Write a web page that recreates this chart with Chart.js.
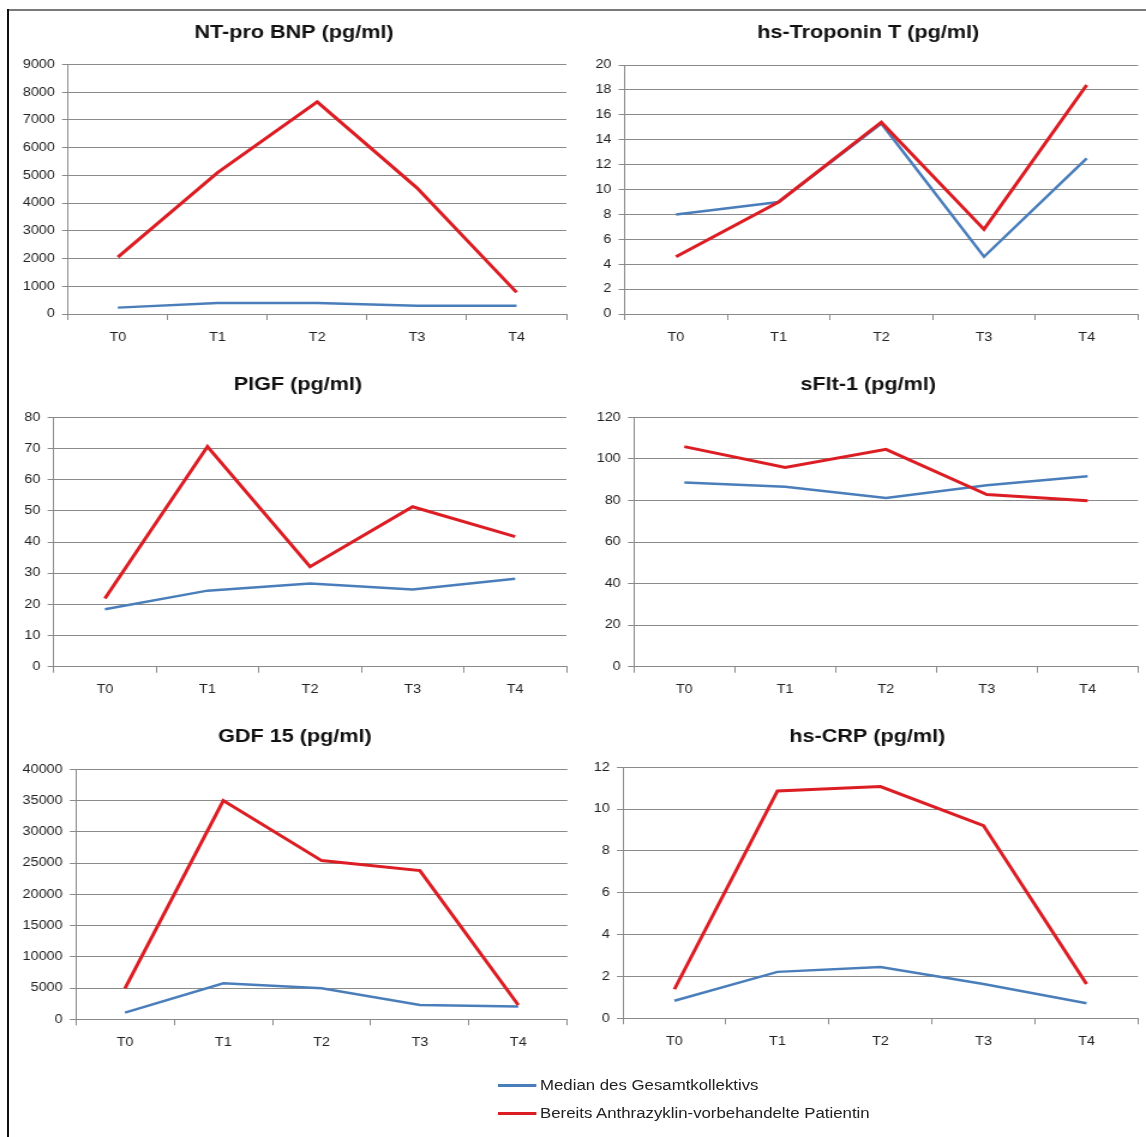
<!DOCTYPE html>
<html lang="de">
<head>
<meta charset="utf-8">
<title>Biomarker T0-T4</title>
<script src="https://cdn.jsdelivr.net/npm/chart.js@4.4.1/dist/chart.umd.min.js"></script>
<style>
  body { margin: 0; background: #fff; font-family: "Liberation Sans", Arial, sans-serif; }
  #rahmenOben { position: absolute; left: 7px; top: 9px; width: 1139px; height: 2px; background: #7a7a7a; }
  #rahmenLinks { position: absolute; left: 7px; top: 9px; width: 2px; height: 1128px; background: #111; }
  /* das Original ist horizontal gestreckt */
  #blatt { position: absolute; left: 0; top: 0; width: 955px; height: 1137px; transform: scaleX(1.2); transform-origin: 0 0; }
  #blatt canvas { position: absolute; }
  .leg { position: absolute; font-size: 14px; color: #222; white-space: nowrap; line-height: 16px; }
  .leg span { display: inline-block; width: 32px; height: 3px; vertical-align: middle; margin-right: 3px; position: relative; top: -1px; }
</style>
</head>
<body>
<div id="rahmenOben"></div>
<div id="rahmenLinks"></div>
<div id="blatt">
  <canvas id="c0"></canvas>
  <canvas id="c1"></canvas>
  <canvas id="c2"></canvas>
  <canvas id="c3"></canvas>
  <canvas id="c4"></canvas>
  <canvas id="c5"></canvas>
  <div class="leg" id="leg0" style="left:415px; top:1077px;"><span></span><b style="font-weight:normal"></b></div>
  <div class="leg" id="leg1" style="left:415px; top:1105px;"><span></span><b style="font-weight:normal"></b></div>
</div>
<script>
// Werte
const zeitpunkte = ['T0', 'T1', 'T2', 'T3', 'T4'];
const serien = ['Median des Gesamtkollektivs', 'Bereits Anthrazyklin-vorbehandelte Patientin'];
const titel = ['NT-pro BNP (pg/ml)', 'hs-Troponin T (pg/ml)', 'PlGF (pg/ml)', 'sFlt-1 (pg/ml)', 'GDF 15 (pg/ml)', 'hs-CRP (pg/ml)'];

const ntProBnpMedian = [230, 400, 400, 300, 300];
const ntProBnpPatientin = [2050, 5100, 7650, 4550, 780];
const troponinMedian = [8.0, 9.0, 15.3, 4.6, 12.5];
const troponinPatientin = [4.6, 9.0, 15.4, 6.8, 18.4];
const plgfMedian = [18.4, 24.4, 26.7, 24.8, 28.2];
const plgfPatientin = [21.9, 70.6, 32.1, 51.3, 41.7];
const sflt1Median = [88.6, 86.6, 81.2, 87.3, 91.6];
const sflt1Patientin = [105.9, 95.9, 104.6, 82.8, 79.9];
const gdf15Median = [1070, 5760, 4960, 2290, 2030];
const gdf15Patientin = [4960, 34990, 25390, 23790, 2290];
const crpMedian = [0.84, 2.22, 2.45, 1.64, 0.72];
const crpPatientin = [1.39, 10.87, 11.08, 9.21, 1.64];

// Achsen: Maximum und Schrittweite
const yMax = [9000, 20, 80, 120, 40000, 12];
const ySchritt = [1000, 2, 10, 20, 5000, 2];

const medianWerte = [ntProBnpMedian, troponinMedian, plgfMedian, sflt1Median, gdf15Median, crpMedian];
const patientinWerte = [ntProBnpPatientin, troponinPatientin, plgfPatientin, sflt1Patientin, gdf15Patientin, crpPatientin];

const S = 1.2;
const BLAU = '#4a7ebb';
const ROT = '#dc1e24';
const GRAU = '#8a8a8a';
const SCHRIFT = '"Liberation Sans", Arial, sans-serif';

// Lage der Diagramme in Bildpunkten (Leinwand, Zeichenfläche, Titelmitte)
const rahmen = [
  { l: 12,  r: 572,  o: 14,  u: 360,  pl: 68,    pr: 566,  po: 64.5,  pu: 314,    tx: 294,   ty: 33 },
  { l: 574, r: 1146, o: 14,  u: 360,  pl: 625,   pr: 1138, po: 65,    pu: 314,    tx: 868.5, ty: 33 },
  { l: 12,  r: 572,  o: 364, u: 712,  pl: 53.6,  pr: 566,  po: 417.3, pu: 666.7,  tx: 298,   ty: 385 },
  { l: 574, r: 1146, o: 364, u: 712,  pl: 634.3, pr: 1138, po: 417.3, pu: 666.7,  tx: 868.5, ty: 385 },
  { l: 12,  r: 572,  o: 716, u: 1062, pl: 75.8,  pr: 567,  po: 769.3, pu: 1019.3, tx: 295,   ty: 737 },
  { l: 574, r: 1146, o: 716, u: 1062, pl: 623.3, pr: 1138, po: 767.3, pu: 1018.3, tx: 867.6, ty: 737 }
];

// Titel selbst zeichnen, damit er genau sitzt
const titelPlugin = {
  id: 'titelPlugin',
  afterDraw(chart, args, opts) {
    const c = chart.ctx;
    c.save();
    c.font = 'bold 18px ' + SCHRIFT;
    c.fillStyle = '#111';
    c.textAlign = 'center';
    c.textBaseline = 'middle';
    c.fillText(opts.text, opts.x, opts.y);
    c.restore();
  }
};

for (let i = 0; i < 6; i++) {
  const f = rahmen[i];
  const canvas = document.getElementById('c' + i);
  canvas.width = Math.round((f.r - f.l) / S);
  canvas.height = f.u - f.o;
  canvas.style.left = (f.l / S) + 'px';
  canvas.style.top = f.o + 'px';

  const yBreite = (f.pl - f.l) / S;
  const xHoehe = f.u - f.pu;

  new Chart(canvas.getContext('2d'), {
    type: 'line',
    data: {
      labels: zeitpunkte,
      datasets: [
        { label: serien[0], data: medianWerte[i], borderColor: BLAU, borderWidth: 2.5, order: 1 },
        { label: serien[1], data: patientinWerte[i], borderColor: ROT, borderWidth: 3, order: 0 }
      ]
    },
    options: {
      responsive: false,
      animation: false,
      events: [],
      elements: { point: { radius: 0 }, line: { tension: 0, borderCapStyle: 'butt' } },
      layout: { padding: { top: f.po - f.o, right: (f.r - f.pr) / S, bottom: 0, left: 0 } },
      plugins: {
        legend: { display: false },
        tooltip: { enabled: false },
        titelPlugin: { text: titel[i], x: (f.tx - f.l) / S, y: f.ty - f.o }
      },
      scales: {
        x: {
          offset: true,
          grid: { display: true, drawOnChartArea: false, drawTicks: true, offset: true, tickLength: 6, color: GRAU },
          border: { display: true, color: GRAU },
          ticks: { color: '#222', font: { family: SCHRIFT, size: 12 }, padding: 10, maxRotation: 0 },
          afterFit(scale) { scale.height = xHoehe; }
        },
        y: {
          min: 0,
          max: yMax[i],
          grid: { color: GRAU, tickLength: 5, drawTicks: true },
          border: { display: true, color: GRAU },
          ticks: {
            stepSize: ySchritt[i],
            color: '#222',
            font: { family: SCHRIFT, size: 12 },
            padding: 6,
            callback: v => String(v)
          },
          afterFit(scale) { scale.width = yBreite; }
        }
      }
    },
    plugins: [titelPlugin]
  });
}

// Gemeinsame Legende unten
const legFarben = [BLAU, ROT];
for (let k = 0; k < 2; k++) {
  const el = document.getElementById('leg' + k);
  el.querySelector('span').style.background = legFarben[k];
  el.querySelector('b').textContent = serien[k];
}
</script>
</body>
</html>
